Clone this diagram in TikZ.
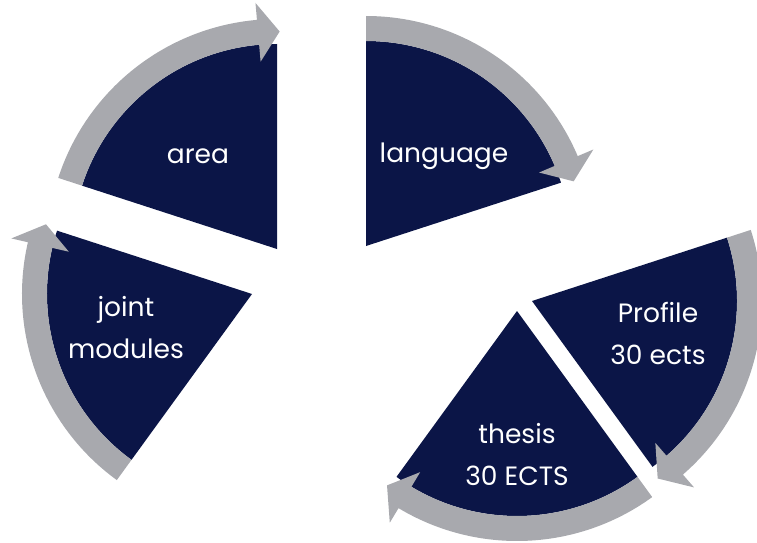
\documentclass[tikz,border=0pt]{standalone}
\usepackage{fontspec}
\setmainfont{Poppins}
\usetikzlibrary{calc}
\definecolor{navyblue}{RGB}{11,21,71}
\definecolor{arrowgray}{RGB}{168,169,174}

\tikzset{
  wedge/.style={fill=navyblue},
  ring/.style={fill=arrowgray},
  label text/.style={text=white, font=\fontsize{26.5}{42}\selectfont, align=center, anchor=base}
}

\begin{document}
\begin{tikzpicture}[x=1pt,y=1pt]
\useasboundingbox (0,0) rectangle (757,542);
\def\rin{205}
\def\rout{230}

% five wedges, each with its own apex
\foreach \ax/\ay/\s/\e in {277/293/162/90, 366/296/90/18, 532/241/18/-54, 517/231/-54/-126, 252/248/234/162}
{
	\fill[wedge] (\ax,\ay) -- ++(\s:\rin) arc[start angle=\s, end angle=\e, radius=\rin] -- cycle;
	% gray band, head at the end angle
	\fill[ring] ($(\ax,\ay)+(\s:\rin)$) arc[start angle=\s, end angle=\e+5, radius=\rin]
		-- ($(\ax,\ay)+(\e+5:188)$) -- ($(\ax,\ay)+(\e-0.7:217.5)$) -- ($(\ax,\ay)+(\e+5:247)$)
		-- ($(\ax,\ay)+(\e+5:\rout)$) arc[start angle=\e+5, end angle=\s, radius=\rout] -- cycle;
}

% base anchor of a two-line node sits on its last line
\node[label text] (area) at (198,379) {area};
\node[label text] (language) at (444,380) {language};
\node[label text] (profile) at (658,178) {Profile\\30 ects};
\node[label text] (thesis) at (517,57) {thesis\\30 ECTS};
\node[label text] (joint) at (126,184) {joint\\modules};

\end{tikzpicture}
\end{document}
